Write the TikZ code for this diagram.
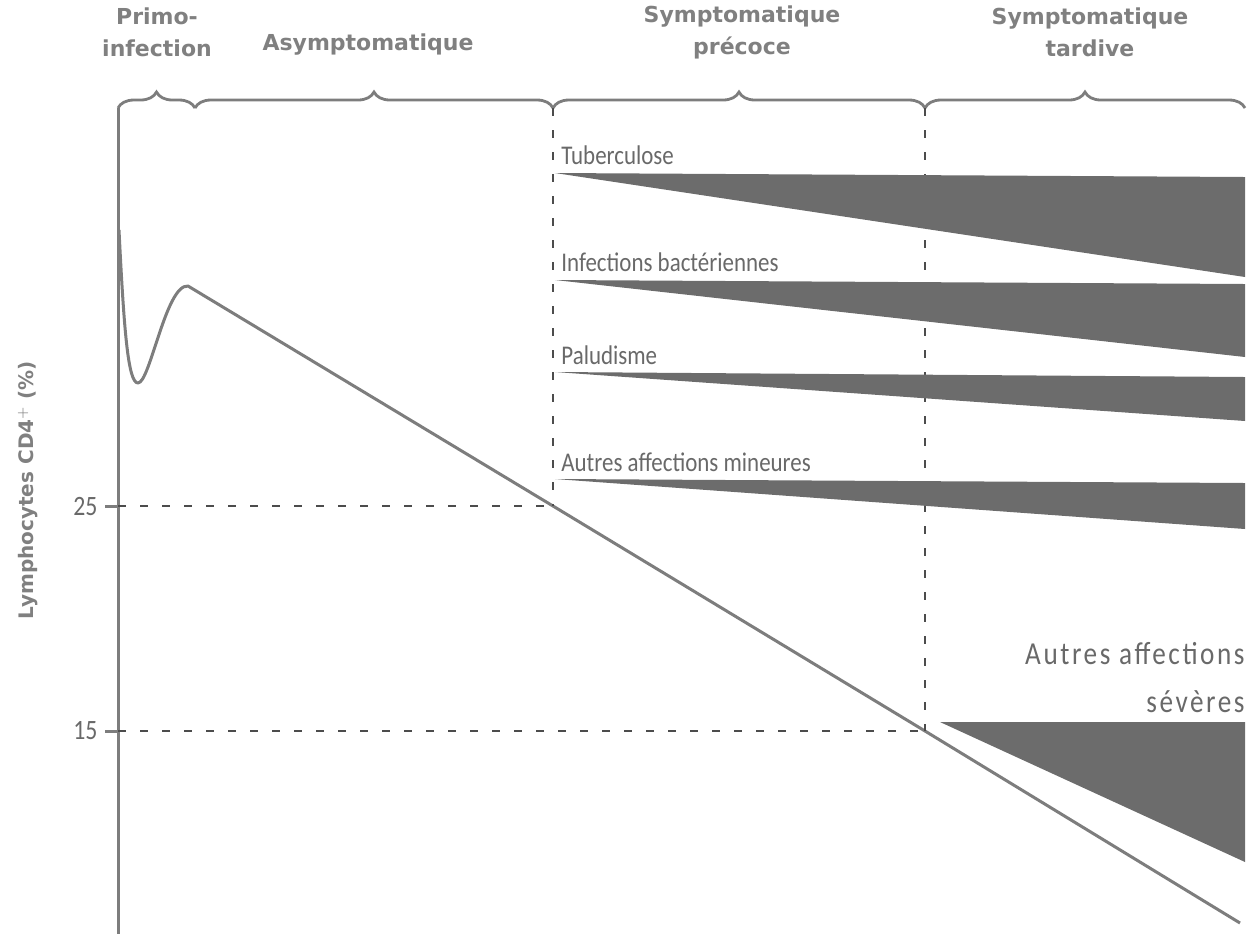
\documentclass[tikz,border=0pt]{standalone}
\usepackage{fontspec}
\setmainfont{Carlito}
\newfontfamily\headfont{DejaVu Sans}
\newfontfamily\labelfont{Carlito}[FakeStretch=0.85]
\newfontfamily\severefont{Carlito}[FakeStretch=0.85, LetterSpace=8]
\usetikzlibrary{decorations.pathreplacing}
\definecolor{curvegray}{RGB}{125,125,125}
\definecolor{bandgray}{RGB}{108,108,108}
\definecolor{textgray}{RGB}{105,105,105}
\definecolor{headgray}{RGB}{128,128,128}

\begin{document}
\begin{tikzpicture}[x=0.5pt,y=-0.5pt,
    axisline/.style={curvegray, line width=1.5pt, line join=round},
    bracket/.style={curvegray, line width=1.4pt, decorate, decoration={brace, amplitude=8pt}},
    guide/.style={black!70, line width=0.6pt, dash pattern=on 4pt off 7pt},
    band/.style={fill=bandgray},
    header/.style={headgray, font=\headfont\bfseries\fontsize{11}{16}\selectfont, align=center},
    disease/.style={textgray, font=\labelfont\fontsize{13.5}{14}\selectfont, inner sep=0pt},
    ticklabel/.style={textgray, font=\labelfont\fontsize{14}{14}\selectfont, anchor=east, inner sep=0pt}]
    \useasboundingbox (0,0) rectangle (1255,934);

    % Phase headers
    \node[header] (primo) at (157,32) {Primo-\\infection};
    \node[header] (asympto) at (368,45) {Asymptomatique};
    \node[header] (precoce) at (742,32) {Symptomatique\\précoce};
    \node[header] (tardive) at (1090,32) {Symptomatique\\tardive};

    % Braces over the phases
    \coordinate (b0) at (118,108);
    \coordinate (b1) at (195,108);
    \coordinate (b2) at (553,108);
    \coordinate (b3) at (925,108);
    \coordinate (b4) at (1245,108);
    \draw[bracket] (b0) -- (b1);
    \draw[bracket] (b1) -- (b2);
    \draw[bracket] (b2) -- (b3);
    \draw[bracket] (b3) -- (b4);

    % Axis and ticks
    \coordinate (axbot) at (118,934);
    \coordinate (y25) at (118,506);
    \coordinate (y15) at (118,731);
    \draw[axisline] (b0) -- (axbot);
    \draw[axisline] (y25) -- ++(-13,0) node[ticklabel, xshift=-3pt] (l25) {25};
    \draw[axisline] (y15) -- ++(-13,0) node[ticklabel, xshift=-3pt] (l15) {15};
    \node[headgray, rotate=90, font=\headfont\bfseries\fontsize{10}{12}\selectfont] (ylab) at (28,490) {Lymphocytes CD4$^{+}$ (\%)};

    % CD4 curve
    \coordinate (p25) at (553,506);
    \coordinate (p15) at (925,731);
    \draw[axisline] (119,230) .. controls (124,330) and (128,383) .. (138,383)
        .. controls (150,383) and (166,284) .. (188,286) -- (p25) -- (p15) -- (1240,923);

    % Dashed guides
    \draw[guide] (y25) -- (p25);
    \draw[guide] (y15) -- (p15);
    \draw[guide] (b2) -- (p25);
    \draw[guide] (b3) -- (p15);

    % Infection bands
    \foreach \ytip/\ytop/\ybot in {173/177/277, 280/284/357, 372/377/421, 479/483/529}
        \fill[band] (555,\ytip) -- (1245,\ytop) -- (1245,\ybot) -- cycle;
    \fill[band] (940,722) -- (1245,722) -- (1245,862) -- cycle;

    \node[disease, anchor=west] (tub) at (561,155) {Tuberculose};
    \node[disease, anchor=west] (bact) at (561,262) {Infections bactériennes};
    \node[disease, anchor=west] (palu) at (561,355) {Paludisme};
    \node[disease, anchor=west] (mineur) at (561,462) {Autres affections mineures};
    \node[disease, anchor=east, align=right, font=\severefont\fontsize{16}{24}\selectfont] (severe) at (1245,678) {Autres affections\\sévères};
\end{tikzpicture}
\end{document}
